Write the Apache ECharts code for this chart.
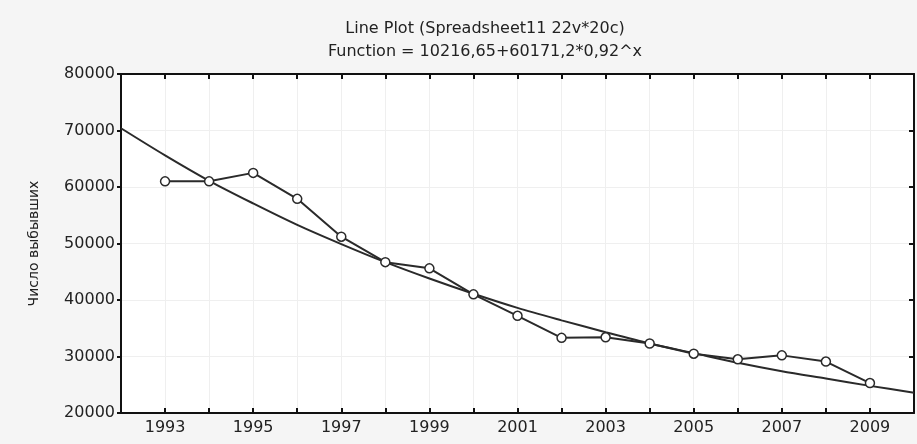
<!DOCTYPE html>
<html>
<head>
<meta charset="utf-8">
<title>Line Plot</title>
<script src="https://cdn.jsdelivr.net/npm/echarts@6/dist/echarts.min.js"></script>
<style>
    html, body { margin: 0; padding: 0; background: #f5f5f5; }
    #chart { width: 917px; height: 444px; }
</style>
</head>
<body>
<div id="chart"></div>
<script>
    // observed points
    var years = [1993, 1994, 1995, 1996, 1997, 1998, 1999, 2000, 2001, 2002, 2003, 2004, 2005, 2006, 2007, 2008, 2009];
    var leavers = [61000, 61000, 62500, 57900, 51200, 46700, 45600, 41000, 37200, 33300, 33400, 32300, 30500, 29500, 30200, 29100, 25300];

    // fitted curve at each year
    var fitYears = [1992, 1993, 1994, 1995, 1996, 1997, 1998, 1999, 2000, 2001, 2002, 2003, 2004, 2005, 2006, 2007, 2008, 2009, 2010];
    var fitValues = [70400, 65600, 61100, 57100, 53300, 49900, 46700, 43800, 41100, 38600, 36400, 34300, 32300, 30600, 28900, 27400, 26100, 24800, 23600];

    var titleText = 'Line Plot (Spreadsheet11 22v*20c)';
    var subText = 'Function = 10216,65+60171,2*0,92^x';
    var yName = 'Число выбывших';

    var font = 'DejaVu Sans';
    var ink = '#222';

    function pairs(xs, ys) {
        var out = [];
        for (let i = 0; i < xs.length; i++) {
            out.push([xs[i], ys[i]]);
        }
        return out;
    }

    var chart = echarts.init(document.getElementById('chart'));
    chart.setOption({
        animation: false,
        backgroundColor: '#f5f5f5',
        graphic: [
            {
                type: 'text', x: 485, y: 29,
                style: { text: titleText, align: 'center', verticalAlign: 'middle', fontFamily: font, fontSize: 16, fill: ink }
            },
            {
                type: 'text', x: 485, y: 52,
                style: { text: subText, align: 'center', verticalAlign: 'middle', fontFamily: font, fontSize: 16, fill: ink }
            }
        ],
        grid: {
            left: 121,
            right: 3,
            top: 74,
            bottom: 31,
            show: true,
            backgroundColor: '#fff',
            borderColor: '#111',
            borderWidth: 1
        },
        xAxis: [
            {
                type: 'value',
                position: 'bottom',
                min: 1992,
                max: 2010,
                interval: 1,
                axisLine: { show: true, lineStyle: { color: '#111', width: 2 } },
                axisTick: { show: true, inside: true, length: 5, lineStyle: { color: '#111', width: 2 } },
                axisLabel: {
                    fontFamily: font, fontSize: 16, color: ink, margin: 7,
                    showMinLabel: false, showMaxLabel: false,
                    formatter: function (v) { return (v % 2 === 1) ? String(v) : ''; }
                },
                splitLine: { show: true, lineStyle: { color: '#efefef', width: 1 } }
            },
            {
                type: 'value',
                position: 'top',
                min: 1992,
                max: 2010,
                interval: 1,
                axisLine: { show: true, lineStyle: { color: '#111', width: 2 } },
                axisTick: { show: true, inside: true, length: 5, lineStyle: { color: '#111', width: 2 } },
                axisLabel: { show: false },
                splitLine: { show: false }
            }
        ],
        yAxis: [
            {
                type: 'value',
                position: 'left',
                min: 20000,
                max: 80000,
                interval: 10000,
                name: yName,
                nameLocation: 'middle',
                nameGap: 80,
                nameTextStyle: { fontFamily: font, fontSize: 14, color: ink },
                axisLine: { show: true, lineStyle: { color: '#111', width: 2 } },
                axisTick: { show: true, inside: false, length: 4, lineStyle: { color: '#111', width: 2 } },
                axisLabel: {
                    fontFamily: font, fontSize: 16, color: ink, margin: 6,
                    formatter: function (v) { return String(v); }
                },
                splitLine: { show: true, lineStyle: { color: '#efefef', width: 1 } }
            },
            {
                type: 'value',
                position: 'right',
                min: 20000,
                max: 80000,
                interval: 10000,
                axisLine: { show: true, lineStyle: { color: '#111', width: 2 } },
                axisTick: { show: true, inside: true, length: 5, lineStyle: { color: '#111', width: 2 } },
                axisLabel: { show: false },
                splitLine: { show: false }
            }
        ],
        series: [
            {
                name: 'fit',
                type: 'line',
                smooth: 0.3,
                showSymbol: false,
                data: pairs(fitYears, fitValues),
                lineStyle: { color: '#2a2a2a', width: 2 },
                z: 2
            },
            {
                name: 'data',
                type: 'line',
                symbol: 'circle',
                symbolSize: 9,
                data: pairs(years, leavers),
                lineStyle: { color: '#2a2a2a', width: 2 },
                itemStyle: { color: '#fff', borderColor: '#2a2a2a', borderWidth: 1.5 },
                z: 3
            }
        ]
    });
</script>
</body>
</html>
